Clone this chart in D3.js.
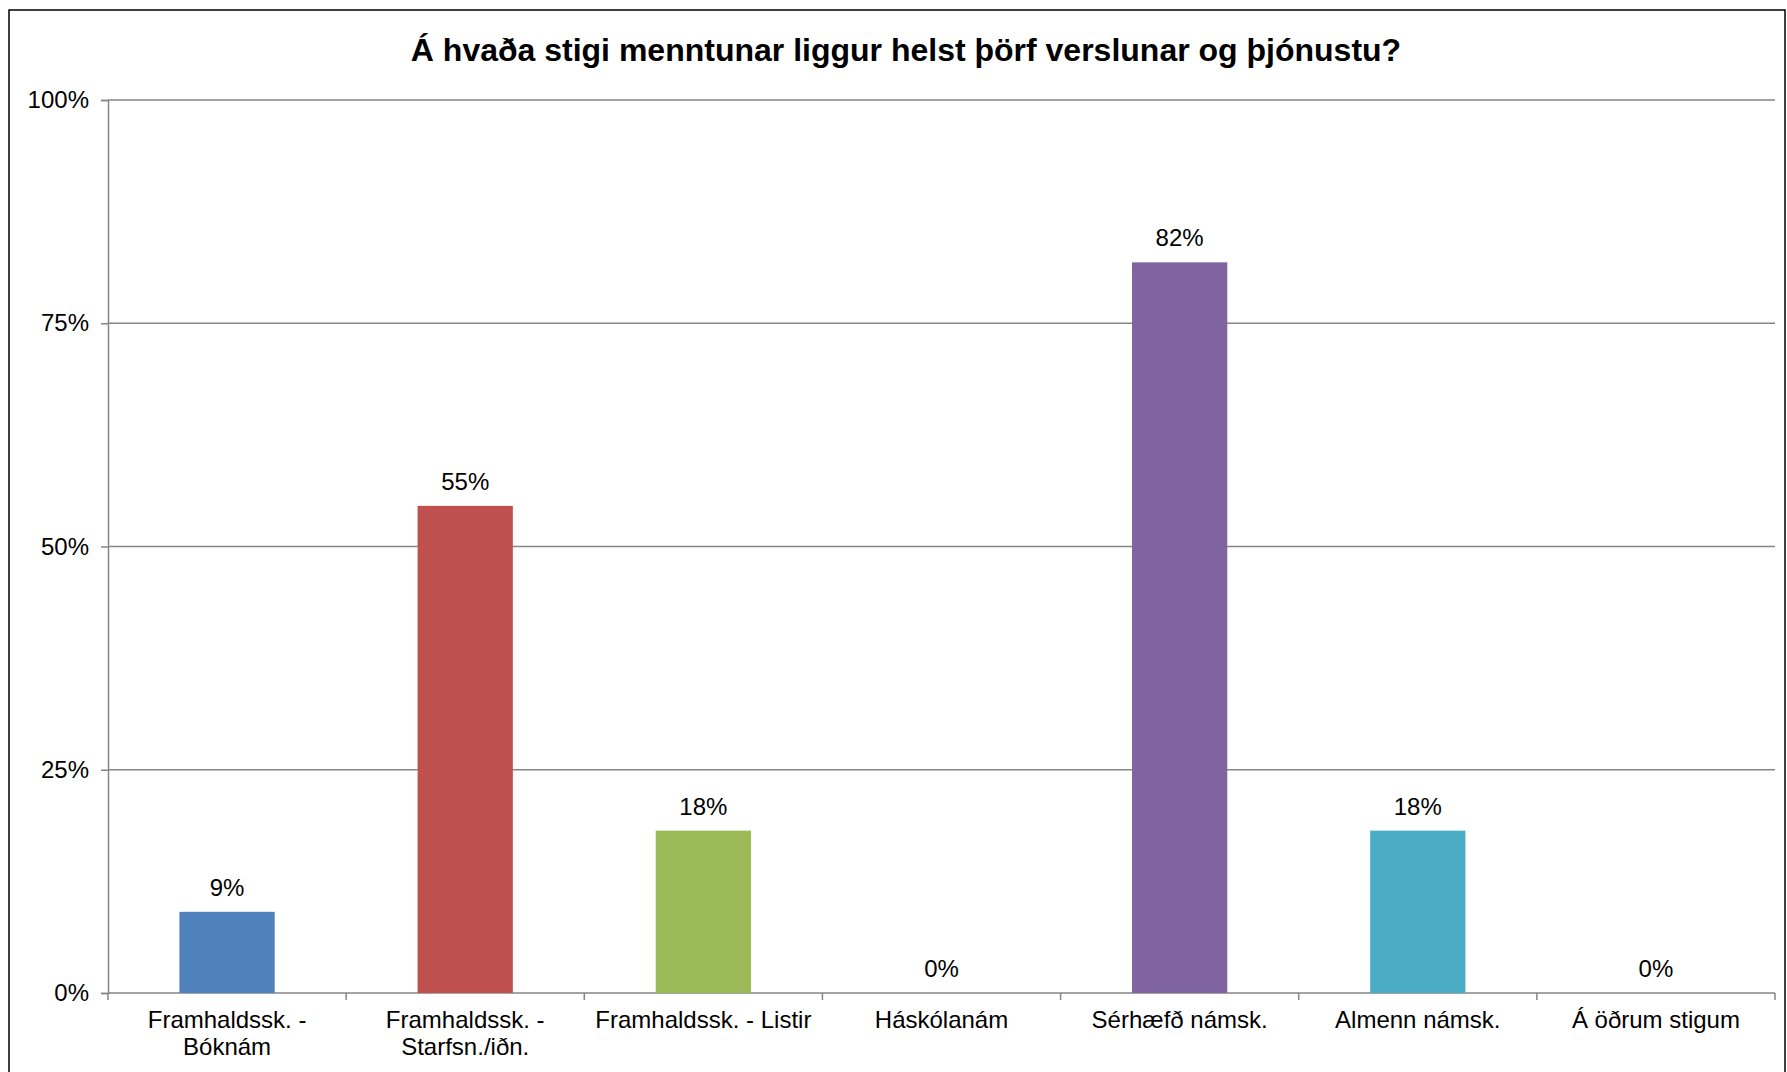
<!DOCTYPE html>
<html>
<head>
<meta charset="utf-8">
<script src="https://cdn.jsdelivr.net/npm/d3@7"></script>
<style>
  body { margin: 0; background: #fff; }
  svg { display: block; font-family: "Liberation Sans", Arial, sans-serif; }
</style>
</head>
<body>
<svg class="chart"></svg>
<script>
// DATA
var chartTitle = "Á hvaða stigi menntunar liggur helst þörf verslunar og þjónustu?";
var categories = [
  ["Framhaldssk. -", "Bóknám"],
  ["Framhaldssk. -", "Starfsn./iðn."],
  ["Framhaldssk. - Listir"],
  ["Háskólanám"],
  ["Sérhæfð námsk."],
  ["Almenn námsk."],
  ["Á öðrum stigum"]
];
var values = [9.09, 54.55, 18.18, 0, 81.82, 18.18, 0];
var barColors = ["#4F81BD", "#C0504D", "#9BBB59", "#F79646", "#8064A2", "#4BACC6", "#2C4D75"];
var yTicks = [0, 25, 50, 75, 100];

// geometry
var gwidth = 1787, gheight = 1072;
var margin = {top: 100, right: 12, bottom: 79, left: 108};
var width = gwidth - margin.left - margin.right,
    height = gheight - margin.top - margin.bottom;
var gridColor = "#868686";
var fontSize = "24px";

var svg = d3.select(".chart")
  .attr("width", gwidth)
  .attr("height", gheight);

// outer frame
svg.append("rect")
  .attr("x", 9).attr("y", 10)
  .attr("width", 1776).attr("height", 1100)
  .attr("fill", "none")
  .attr("stroke", "#000")
  .attr("stroke-width", 1.5);

svg.append("text")
  .attr("x", 906).attr("y", 61)
  .attr("text-anchor", "middle")
  .style("font-weight", "bold")
  .style("font-size", "32px")
  .text(chartTitle);

var chart = svg.append("g")
  .attr("transform", "translate(" + margin.left + "," + margin.top + ")");

var x = d3.scaleBand()
  .domain(d3.range(categories.length))
  .range([0, width])
  .paddingInner(0.6)
  .paddingOuter(0.3);
var y = d3.scaleLinear()
  .domain([0, 100])
  .range([height, 0]);

// gridlines
chart.append("g")
  .selectAll("line").data(yTicks.slice(1)).enter()
  .append("line")
  .attr("x1", 0).attr("x2", width)
  .attr("y1", function(d) { return y(d); })
  .attr("y2", function(d) { return y(d); })
  .attr("stroke", gridColor)
  .attr("stroke-width", 1.5);

// y axis
var yAxis = d3.axisLeft(y)
  .tickValues(yTicks)
  .tickSize(7)
  .tickPadding(12)
  .tickFormat(function(d) { return d + "%"; });
var ya = chart.append("g").call(yAxis);
ya.select(".domain").attr("stroke", gridColor).attr("stroke-width", 1.5);
ya.selectAll(".tick line").attr("stroke", gridColor).attr("stroke-width", 1.5);
ya.selectAll(".tick text")
  .attr("fill", "#000")
  .style("font-size", fontSize)
  .style("font-family", "Liberation Sans, Arial, sans-serif");

// x axis: ticks between categories
var xa = chart.append("g").attr("transform", "translate(0," + height + ")");
xa.append("line")
  .attr("x1", 0).attr("x2", width)
  .attr("stroke", gridColor).attr("stroke-width", 1.5);
xa.selectAll(".xtick").data(d3.range(categories.length + 1)).enter()
  .append("line")
  .attr("x1", function(d) { return d * width / categories.length; })
  .attr("x2", function(d) { return d * width / categories.length; })
  .attr("y1", 0).attr("y2", 7)
  .attr("stroke", gridColor).attr("stroke-width", 1.5);

var labels = xa.selectAll(".xlabel").data(categories).enter()
  .append("text")
  .attr("text-anchor", "middle")
  .style("font-size", fontSize)
  .attr("transform", function(d, i) {
    return "translate(" + (x(i) + x.bandwidth() / 2) + ",35)";
  });
labels.selectAll("tspan").data(function(d) { return d; }).enter()
  .append("tspan")
  .attr("x", 0)
  .attr("y", function(d, i) { return i * 27; })
  .text(function(d) { return d; });

// bars
chart.selectAll(".bar").data(values).enter()
  .append("rect")
  .attr("x", function(d, i) { return x(i); })
  .attr("y", function(d) { return y(d); })
  .attr("width", x.bandwidth())
  .attr("height", function(d) { return height - y(d); })
  .attr("fill", function(d, i) { return barColors[i]; });

// data labels
chart.selectAll(".lbl").data(values).enter()
  .append("text")
  .attr("text-anchor", "middle")
  .style("font-size", fontSize)
  .attr("x", function(d, i) { return x(i) + x.bandwidth() / 2; })
  .attr("y", function(d) { return y(d) - 16; })
  .text(function(d) { return Math.round(d) + "%"; });
</script>
</body>
</html>
